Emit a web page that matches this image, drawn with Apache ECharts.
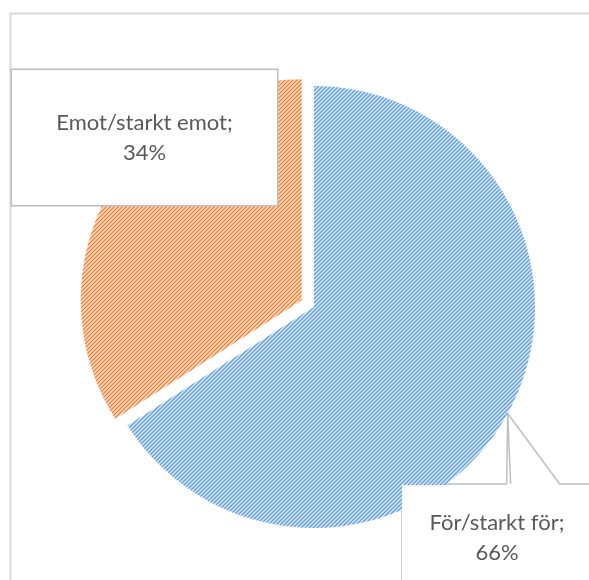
<!DOCTYPE html>
<html>
<head>
<meta charset="utf-8">
<script src="https://cdn.jsdelivr.net/npm/echarts@6/dist/echarts.min.js"></script>
<style>
  html, body { margin: 0; padding: 0; background: #ffffff; }
  #chart { width: 589px; height: 580px; }
</style>
</head>
<body>
<div id="chart"></div>
<script>
// Survey answers: share of respondents (percent)
const categories = ['För/starkt för', 'Emot/starkt emot'];
const shares = [66, 34];

// Hatch colours per slice: background, stripe edge, stripe core
const hatchColors = [
  { light: '#d6e6f6', mid: '#a6c8ea', dark: '#5b9bd5' },
  { light: '#fde1cd', mid: '#f7b78c', dark: '#ed7d31' }
];

// Small repeating tile with "/" diagonal stripes
function hatchPattern(c) {
  const n = 4;
  const cv = document.createElement('canvas');
  cv.width = n; cv.height = n;
  const g = cv.getContext('2d');
  for (let y = 0; y < n; y++) {
    for (let x = 0; x < n; x++) {
      const k = (x + y) % n;
      g.fillStyle = k === 0 ? c.dark : (k === 2 ? c.light : c.mid);
      g.fillRect(x, y, 1, 1);
    }
  }
  return { image: cv, repeat: 'repeat' };
}

const textColor = '#595959';
const boxBorder = '#bfbfbf';
const pieCenter = [314, 307];
const pieRadius = 221;
const explode = 14;            // pull-out distance of the smaller slice

// Direction of the smaller slice's bisector (slices run clockwise from 12 o'clock)
const total = shares[0] + shares[1];
const midDeg = 90 - 360 * (shares[0] + shares[1] / 2) / total;
const midRad = midDeg * Math.PI / 180;
const explodedCenter = [
  pieCenter[0] + explode * Math.cos(midRad),
  pieCenter[1] - explode * Math.sin(midRad)
];

const hidden = {
  itemStyle: { color: 'rgba(0,0,0,0)' },
  label: { show: false },
  labelLine: { show: false },
  silent: true
};

function sliceData(visibleIndex) {
  return categories.map((name, i) => {
    const item = { name: name, value: shares[i] };
    if (i !== visibleIndex) return Object.assign(item, hidden);
    item.itemStyle = { color: hatchPattern(hatchColors[i]) };
    return item;
  });
}

const common = {
  type: 'pie',
  radius: pieRadius,
  startAngle: 90,
  clockwise: true,
  avoidLabelOverlap: false,
  emphasis: { disabled: true },
  selectedMode: false,
  label: {
    show: true,
    position: 'outside',
    formatter: '{b};\n{d}%',
    fontFamily: 'Lato',
    fontSize: 22,
    lineHeight: 30,
    color: textColor,
    align: 'center',
    backgroundColor: '#ffffff'
  },
  labelLine: {
    show: true,
    lineStyle: { color: boxBorder, width: 1.5 }
  }
};

const chart = echarts.init(document.getElementById('chart'), null, { renderer: 'canvas' });

chart.setOption({
  animation: false,
  graphic: [{
    type: 'rect',
    silent: true,
    z: -1,
    shape: { x: 10.5, y: 13.5, width: 800, height: 800 },
    style: { fill: 'transparent', stroke: '#d9d9d9', lineWidth: 2 }
  }],
  series: [
    Object.assign({}, common, {
      name: 'for',
      center: pieCenter,
      label: Object.assign({}, common.label, { width: 190, height: 60, padding: [23, 0, 25, 0] }),
      // callout box for the larger slice, with its pointer back to the slice edge
      labelLayout: function (params) {
        const left = 402, top = 484, cx = 497;
        let p = params.labelLinePoints && params.labelLinePoints[0];
        if (!p) {
          const m = (90 - 180 * shares[0] / total) * Math.PI / 180;
          p = [pieCenter[0] + pieRadius * Math.cos(m), pieCenter[1] - pieRadius * Math.sin(m)];
        }
        return {
          x: cx, y: top + 1, align: 'center', verticalAlign: 'top',
          labelLinePoints: [
            [left, 700], [left, top], [p[0] - 1, top], [p[0], p[1]],
            [p[0] + 3, top], [p[0], p[1]], [p[0] + 52, top], [700, top]
          ]
        };
      },
      data: sliceData(0)
    }),
    Object.assign({}, common, {
      name: 'emot',
      center: explodedCenter,
      label: Object.assign({}, common.label, {
        width: 265, height: 60, padding: [38, 0, 37, 0],
        borderColor: boxBorder, borderWidth: 1.5
      }),
      labelLine: { show: false },
      labelLayout: function () {
        return { x: 144.5, y: 70, align: 'center', verticalAlign: 'top' };
      },
      data: sliceData(1)
    })
  ]
});
</script>
</body>
</html>
